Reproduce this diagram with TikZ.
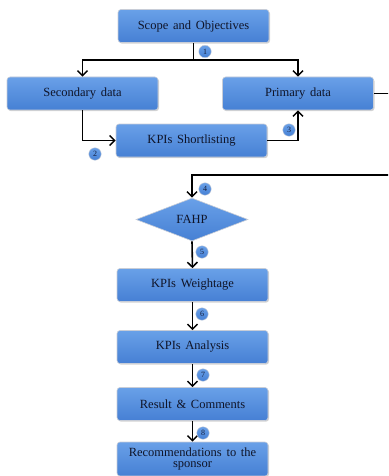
\documentclass[tikz,border=0pt]{standalone}
\usepackage{fontspec}
\setmainfont{Liberation Serif}[WordSpace={1.5}]
\usetikzlibrary{shapes.geometric,arrows.meta,shadows}
\definecolor{boxtop}{RGB}{105,160,232}
\definecolor{boxbot}{RGB}{70,128,212}
\definecolor{boxline}{RGB}{200,205,215}
\definecolor{numtxt}{RGB}{20,30,60}
\definecolor{txt}{RGB}{15,20,40}
\begin{document}
\begin{tikzpicture}[x=1pt,y=-1pt,
  box/.style={rectangle,rounded corners=3pt,minimum width=151pt,minimum height=33pt,
    top color=boxtop,bottom color=boxbot,draw=boxline,line width=0.6pt,
    drop shadow={shadow xshift=1pt,shadow yshift=-1.2pt,opacity=0.35},
    font=\fontsize{12.5}{13}\selectfont,text=txt,align=center,inner sep=1pt},
  dia/.style={diamond,aspect=2.6,minimum width=112pt,minimum height=43pt,inner sep=0pt,
    top color=boxtop,bottom color=boxbot,draw=boxline,line width=0.6pt,
    font=\fontsize{12.5}{13}\selectfont,text=txt},
  num/.style={circle,minimum size=12.5pt,inner sep=0pt,top color=boxtop,bottom color=boxbot,
    draw=boxline,line width=0.4pt,font=\fontsize{8}{8}\selectfont,text=numtxt},
  conn/.style={line width=1.6pt,-{Straight Barb[length=5pt,width=10pt,line width=1.5pt]}},
  plain/.style={line width=1.6pt}]
\useasboundingbox (0,0) rectangle (388,476);
\clip (0,0) rectangle (388,476);
\node[box] (scope) at (193.5,26) {Scope and Objectives};
\node[box] (sec) at (82.5,93.5) {Secondary data};
\node[box] (prim) at (298,93.5) {Primary data};
\node[box] (kpis) at (191.5,140.5) {KPIs Shortlisting};
\node[dia] (fahp) at (192,219.5) {FAHP};
\node[box] (wt) at (192.5,285) {KPIs Weightage};
\node[box] (an) at (192.5,347) {KPIs Analysis};
\node[box] (res) at (192.5,404) {Result \& Comments};
\node[box,minimum height=34pt] (rec) at (192.5,459) {Recommendations to the\\[-1.5pt]sponsor};
\coordinate (split) at (193.5,60);
\coordinate (outR) at (400,93.5);
\coordinate (inR) at (400,175);
\coordinate (c4) at (192,175);
\draw[plain] (scope.south) -- (split);
\draw[conn] (split) -| (sec.north);
\draw[conn] (split) -| (prim.north);
\draw[conn] (sec.south) |- (kpis.west);
\draw[conn] (kpis.east) -| (prim.south);
\draw[plain] (prim.east) -- (outR);
\draw[conn] (inR) -- (c4) -- (fahp.north);
\draw[conn] (fahp.south) -- (wt.north);
\draw[conn] (wt.south) -- (an.north);
\draw[conn] (an.south) -- (res.north);
\draw[conn] (res.south) -- (rec.north);
\node[num] (n1) at (205,51.5) {1};
\node[num] (n2) at (95,154) {2};
\node[num] (n3) at (289,130) {3};
\node[num] (n4) at (205,189) {4};
\node[num] (n5) at (202,252) {5};
\node[num] (n6) at (202,314) {6};
\node[num] (n7) at (203,375) {7};
\node[num] (n8) at (203,433) {8};
\end{tikzpicture}
\end{document}
